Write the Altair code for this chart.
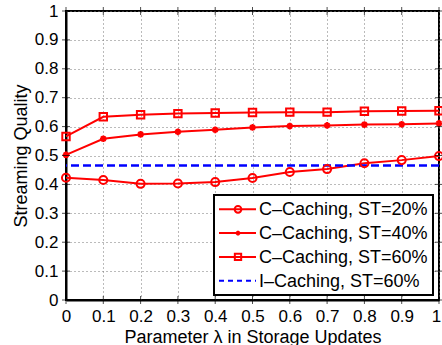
import altair as alt
import pandas as pd

# lambda values on the x axis
lam = [0.0, 0.1, 0.2, 0.3, 0.4, 0.5, 0.6, 0.7, 0.8, 0.9, 1.0]

# streaming quality per scheme
c20 = [0.423, 0.415, 0.402, 0.403, 0.408, 0.422, 0.443, 0.453, 0.473, 0.484, 0.498]
c40 = [0.502, 0.558, 0.573, 0.582, 0.589, 0.597, 0.602, 0.604, 0.607, 0.608, 0.611]
c60 = [0.566, 0.634, 0.641, 0.645, 0.647, 0.649, 0.650, 0.650, 0.653, 0.654, 0.655]
i60 = 0.465

labels = ["C\u2013Caching, ST=20%", "C\u2013Caching, ST=40%",
          "C\u2013Caching, ST=60%", "I\u2013Caching, ST=60%"]

x_ticks = [0, 0.1, 0.2, 0.3, 0.4, 0.5, 0.6, 0.7, 0.8, 0.9, 1]
y_ticks = [0, 0.1, 0.2, 0.3, 0.4, 0.5, 0.6, 0.7, 0.8, 0.9, 1]

FONT = "Liberation Sans"
RED = "#ff0000"
BLUE = "#0000ff"
W, H = 373, 289

STAR = "M-1,0L1,0M0,-1L0,1M-0.7,-0.7L0.7,0.7M-0.7,0.7L0.7,-0.7"

df = pd.DataFrame({
    "lam": lam * 3,
    "q": c20 + c40 + c60,
    "series": [labels[0]] * 11 + [labels[1]] * 11 + [labels[2]] * 11,
})

xs = alt.Scale(domain=[0, 1], nice=False, zero=False)
ys = alt.Scale(domain=[0, 1], nice=False, zero=False)

# the last x label is nudged left so it stays inside the canvas
x_enc = alt.X("lam:Q", scale=xs, title="Parameter \u03bb in Storage Updates",
              axis=alt.Axis(values=x_ticks, format="~g", grid=True,
                            labelOffset={"condition": {"test": "datum.value === 1", "value": -3},
                                         "value": 0}))
y_enc = alt.Y("q:Q", scale=ys, title="Streaming Quality",
              axis=alt.Axis(values=y_ticks, format="~g", grid=True))

lines = alt.Chart(df).mark_line(color=RED, strokeWidth=2).encode(
    x=x_enc, y=y_enc, detail="series:N")

def pts(label, shape, size):
    return alt.Chart(df[df.series == label]).mark_point(
        shape=shape, size=size, color=RED, filled=False, strokeWidth=2, opacity=1
    ).encode(x=x_enc, y=y_enc)

p20 = pts(labels[0], "circle", 65)
p40 = pts(labels[1], STAR, 45)
p60 = pts(labels[2], "square", 55)

icache = alt.Chart(pd.DataFrame({"q": [i60]})).mark_rule(
    color=BLUE, strokeWidth=2.5, strokeDash=[8, 4]
).encode(y=y_enc)

# inward tick marks on all four sides of the frame
xt = pd.DataFrame({"lam": x_ticks})
yt = pd.DataFrame({"q": y_ticks})
tick_layers = [
    alt.Chart(xt).mark_tick(color="black", thickness=1, size=8, orient="vertical")
    .encode(x=x_enc, y=alt.value(H)),
    alt.Chart(xt).mark_tick(color="black", thickness=1, size=8, orient="vertical")
    .encode(x=x_enc, y=alt.value(0)),
    alt.Chart(yt).mark_tick(color="black", thickness=1, size=8, orient="horizontal")
    .encode(y=y_enc, x=alt.value(0)),
    alt.Chart(yt).mark_tick(color="black", thickness=1, size=8, orient="horizontal")
    .encode(y=y_enc, x=alt.value(W)),
]

# legend box
bx0, bx1, by0, by1 = 148, 367, 184, 284
legend_layers = [
    alt.Chart(pd.DataFrame({"a": [0]})).mark_rect(
        fill="white", stroke="black", strokeWidth=2
    ).encode(x=alt.value(bx0), x2=alt.value(bx1), y=alt.value(by0), y2=alt.value(by1))
]
row_y0, row_dy = 198.3, 23.8
markers = [("circle", 45), (STAR, 22), ("square", 40), (None, 0)]
for i, lab in enumerate(labels):
    ry = row_y0 + i * row_dy
    one = pd.DataFrame({"label": [lab]})
    if i < 3:
        legend_layers.append(alt.Chart(one).mark_rule(color=RED, strokeWidth=2).encode(
            x=alt.value(153), x2=alt.value(190), y=alt.value(ry)))
        legend_layers.append(alt.Chart(one).mark_point(
            shape=markers[i][0], size=markers[i][1], color=RED, filled=False,
            strokeWidth=2, opacity=1).encode(x=alt.value(172), y=alt.value(ry)))
    else:
        legend_layers.append(alt.Chart(one).mark_rule(
            color=BLUE, strokeWidth=2, strokeDash=[5, 4]).encode(
            x=alt.value(153), x2=alt.value(190), y=alt.value(ry)))
    legend_layers.append(alt.Chart(one).mark_text(
        align="left", baseline="middle", font=FONT, fontSize=18, color="black"
    ).encode(x=alt.value(193), y=alt.value(ry + 1), text="label:N"))

chart = alt.layer(lines, icache, p20, p40, p60, *tick_layers, *legend_layers).properties(
    width=W, height=H,
    autosize=alt.AutoSizeParams(type="none"),
    padding={"left": 66, "top": 11, "right": 3, "bottom": 45},
).configure_view(
    stroke="black", strokeWidth=2
).configure_axis(
    labelFont=FONT, titleFont=FONT, labelFontSize=17, titleFontSize=18,
    labelColor="black", titleColor="black", titleFontWeight="normal",
    domainColor="black", domainWidth=2, tickColor="black", tickSize=0,
    gridColor="#777777", gridDash=[1, 3], gridWidth=1,
    labelOverlap=False,
).configure_axisX(
    labelPadding=8, titlePadding=4, labelFlush=False,
).configure_axisY(
    labelPadding=8, titlePadding=4, labelFlush=False,
)

chart.save("out.html", embed_options={"renderer": "svg", "actions": False})
